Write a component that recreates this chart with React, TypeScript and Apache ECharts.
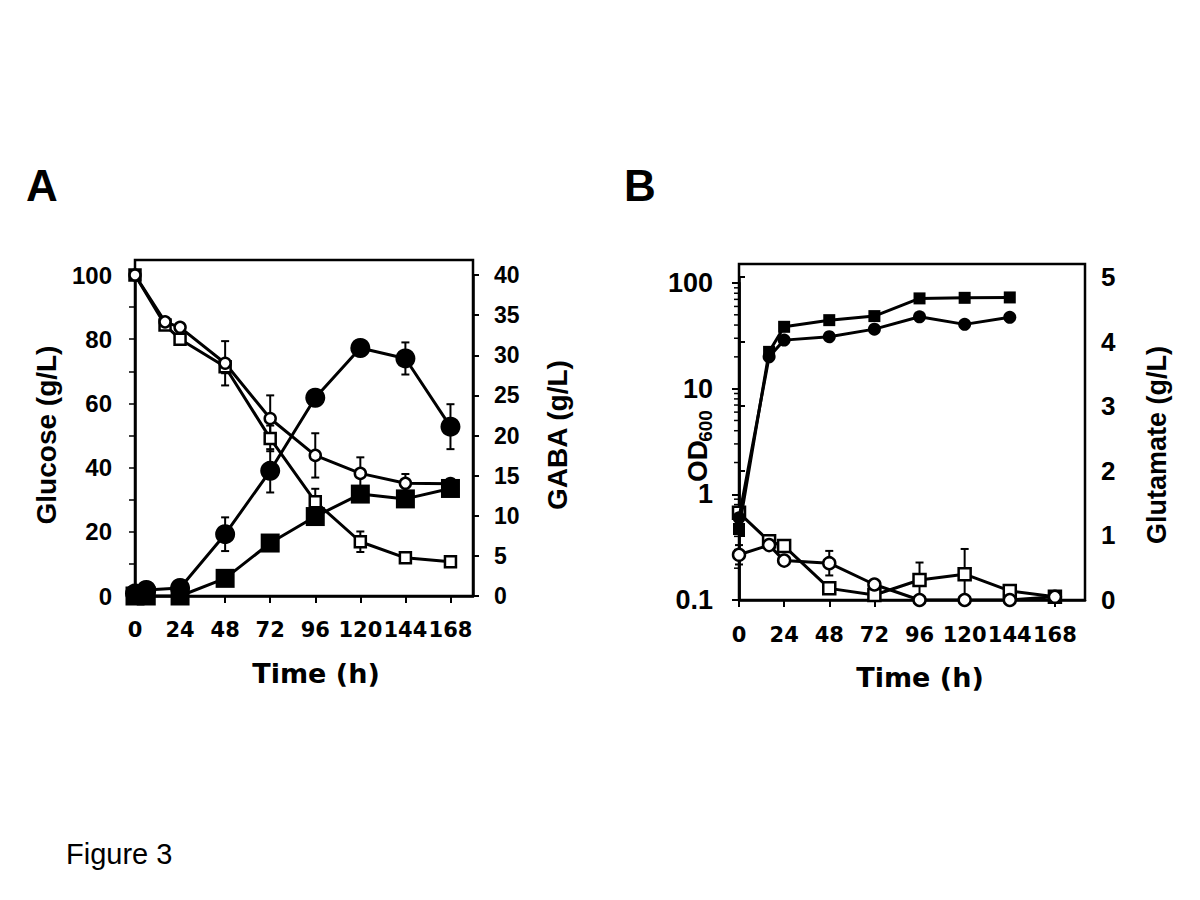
import React, { useEffect, useRef } from 'react';
import * as echarts from 'echarts';

// ---------- shared ----------
const timeTicks = [0, 24, 48, 72, 96, 120, 144, 168];

// ---------- Panel A : glucose (left axis) & GABA (right axis) ----------
const timeAOpen = [0, 16, 24, 48, 72, 96, 120, 144, 168];
const glucoseCircle = [100, 85.4, 83.7, 72.5, 55.3, 43.8, 38.2, 35.1, 35];
const glucoseCircleErr = [0, 0, 0, 6.9, 7.2, 6.9, 5, 2.9, 1.5];
const glucoseSquare = [100, 84.4, 80, 71.4, 49.1, 29.4, 16.9, 11.9, 10.7];
const glucoseSquareErr = [0, 0, 0, 2, 4, 4, 3.2, 0, 0];

const timeAFilled = [0, 6, 24, 48, 72, 96, 120, 144, 168];
const gabaCircle = [0.3, 0.75, 1.0, 7.7, 15.6, 24.7, 30.9, 29.6, 21.1];
const gabaCircleErr = [0, 0, 0, 2.1, 2.7, 0, 0, 2.0, 2.8];
const gabaSquare = [0, 0, 0, 2.2, 6.6, 9.9, 12.7, 12.1, 13.4];
const gabaSquareErr = [0, 0, 0, 0, 0, 0, 0, 0, 0.8];

// ---------- Panel B : OD600 (left log axis) & glutamate (right axis) ----------
const timeBOd = [0, 16, 24, 48, 72, 96, 120, 144];
const odSquare = [0.47, 22.3, 38.5, 44.5, 48.6, 71.5, 72.4, 73];
const odCircle = [0.6, 20, 28.8, 31, 36.6, 47.9, 40.6, 47.3];

const timeBGlu = [0, 16, 24, 48, 72, 96, 120, 144, 168];
const gluSquare = [1.35, 0.91, 0.835, 0.18, 0.077, 0.31, 0.4, 0.14, 0.05];
const gluSquareErr = [0, 0, 0, 0, 0, 0.27, 0.39, 0, 0];
const gluCircle = [0.7, 0.85, 0.61, 0.57, 0.24, 0, 0, 0, 0.05];
const gluCircleErr = [0.15, 0, 0, 0.19, 0, 0, 0, 0, 0];

const odMinorTicks = [0.2, 0.3, 0.4, 0.5, 0.6, 0.7, 0.8, 0.9, 2, 3, 4, 5, 6, 7, 8, 9, 20, 30, 40, 50, 60, 70, 80, 90];

const ARIAL = 'Liberation Sans';
const WIDE = 'DejaVu Sans';

const pairs = (xs: number[], ys: number[]) => xs.map((x, i) => [x, ys[i]]);
const errData = (xs: number[], ys: number[], es: number[]) =>
  xs.map((x, i) => [x, ys[i], es[i]]).filter((d) => d[2] > 0);

const errRender = (params: any, api: any) => {
  const x = api.value(0);
  const y = api.value(1);
  const e = api.value(2);
  const top = api.coord([x, y + e]);
  const bot = api.coord([x, y - e]);
  const hw = 4;
  const st = { stroke: '#000', lineWidth: 2 };
  return {
    type: 'group',
    children: [
      { type: 'line', shape: { x1: top[0], y1: top[1], x2: bot[0], y2: bot[1] }, style: st },
      { type: 'line', shape: { x1: top[0] - hw, y1: top[1], x2: top[0] + hw, y2: top[1] }, style: st },
      { type: 'line', shape: { x1: bot[0] - hw, y1: bot[1], x2: bot[0] + hw, y2: bot[1] }, style: st },
    ],
  };
};

const minorTickRender = (params: any, api: any) => {
  const p = api.coord([0, api.value(1)]);
  return {
    type: 'line',
    shape: { x1: p[0] - 5, y1: p[1], x2: p[0], y2: p[1] },
    style: { stroke: '#000', lineWidth: 1.5 },
  };
};

const axisLineStyle = { color: '#000', width: 2.5 };

const lineSeries = (
  name: string,
  data: number[][],
  xi: number,
  yi: number,
  symbol: string,
  size: number,
  filled: boolean,
  z: number
) => ({
  name,
  type: 'line',
  xAxisIndex: xi,
  yAxisIndex: yi,
  data,
  symbol,
  symbolSize: size,
  showSymbol: true,
  showAllSymbol: true,
  silent: true,
  z,
  lineStyle: { color: '#000', width: 3 },
  itemStyle: filled
    ? { color: '#000', borderColor: '#000', borderWidth: 0 }
    : { color: '#fff', borderColor: '#000', borderWidth: 2.5 },
  emphasis: { disabled: true },
});

const errSeries = (data: number[][], xi: number, yi: number) => ({
  type: 'custom',
  xAxisIndex: xi,
  yAxisIndex: yi,
  data,
  encode: { x: 0, y: 1 },
  renderItem: errRender,
  silent: true,
  clip: false,
  z: 1,
});

const xAxisBase = (gridIndex: number, max: number, margin: number) => ({
  type: 'value',
  gridIndex,
  min: 0,
  max,
  axisLine: { show: true, onZero: false, lineStyle: axisLineStyle },
  axisTick: { show: true, customValues: timeTicks, length: 7, lineStyle: { color: '#000', width: 2 } },
  axisLabel: {
    customValues: timeTicks,
    hideOverlap: false,
    showMaxLabel: true,
    showMinLabel: true,
    fontFamily: WIDE,
    fontWeight: 'bold',
    fontSize: 21,
    color: '#000',
    margin,
  },
  splitLine: { show: false },
});

export default function App() {
  const ref = useRef<HTMLDivElement>(null);

  useEffect(() => {
    if (!ref.current) return;
    const chart = echarts.init(ref.current, undefined, { renderer: 'svg' });

    const option: any = {
      animation: false,
      backgroundColor: '#fff',
      grid: [
        { left: 135, top: 275, width: 338, height: 321 },
        { left: 739, top: 283, width: 346, height: 317 },
        { left: 739, top: 277, width: 346, height: 323 },
      ],
      xAxis: [
        xAxisBase(0, 180, 23),
        xAxisBase(1, 184, 24),
        { type: 'value', gridIndex: 2, min: 0, max: 184, show: false },
      ],
      yAxis: [
        {
          type: 'value',
          gridIndex: 0,
          position: 'left',
          min: 0,
          max: 100,
          interval: 10,
          axisLine: { show: true, lineStyle: axisLineStyle },
          axisTick: { show: true, length: 6, lineStyle: { color: '#000', width: 1.5 } },
          axisLabel: {
            formatter: (v: number) => (v % 20 === 0 ? String(v) : ''),
            fontFamily: ARIAL,
            fontWeight: 'bold',
            fontSize: 24,
            color: '#000',
            margin: 23,
          },
          splitLine: { show: false },
        },
        {
          type: 'value',
          gridIndex: 0,
          position: 'right',
          min: 0,
          max: 40,
          interval: 5,
          axisLine: { show: true, lineStyle: axisLineStyle },
          axisTick: { show: true, length: 6, lineStyle: { color: '#000', width: 2 } },
          axisLabel: { fontFamily: ARIAL, fontWeight: 'bold', fontSize: 23, color: '#000', margin: 21 },
          splitLine: { show: false },
        },
        {
          type: 'log',
          logBase: 10,
          gridIndex: 1,
          position: 'left',
          min: 0.1,
          max: 100,
          axisLine: { show: true, lineStyle: axisLineStyle },
          axisTick: { show: true, length: 7, lineStyle: { color: '#000', width: 2 } },
          axisLabel: {
            formatter: (v: number) => (v >= 1 ? String(Math.round(v)) : String(Math.round(v * 10) / 10)),
            fontFamily: ARIAL,
            fontWeight: 'bold',
            fontSize: 27,
            color: '#000',
            margin: 26,
          },
          splitLine: { show: false },
        },
        {
          type: 'value',
          gridIndex: 2,
          position: 'right',
          min: 0,
          max: 5,
          interval: 1,
          axisLine: { show: true, lineStyle: axisLineStyle },
          axisTick: { show: true, length: 6, lineStyle: { color: '#000', width: 2 } },
          axisLabel: { fontFamily: ARIAL, fontWeight: 'bold', fontSize: 26, color: '#000', margin: 16 },
          splitLine: { show: false },
        },
      ],
      graphic: [
        { type: 'rect', shape: { x: 135, y: 260, width: 338, height: 336 }, style: { fill: 'none', stroke: '#000', lineWidth: 2.5 }, z: 0 },
        { type: 'rect', shape: { x: 739, y: 264, width: 346, height: 336 }, style: { fill: 'none', stroke: '#000', lineWidth: 2.5 }, z: 0 },
        { type: 'text', x: 42, y: 185, style: { text: 'A', font: `bold 44px "${ARIAL}"`, fill: '#000', align: 'center', verticalAlign: 'middle' } },
        { type: 'text', x: 640, y: 185, style: { text: 'B', font: `bold 44px "${ARIAL}"`, fill: '#000', align: 'center', verticalAlign: 'middle' } },
        { type: 'text', x: 66, y: 854, style: { text: 'Figure 3', font: `29px "${ARIAL}"`, fill: '#000', align: 'left', verticalAlign: 'middle' } },
        { type: 'text', x: 46, y: 435, rotation: Math.PI / 2, style: { text: 'Glucose (g/L)', font: `bold 28px "${ARIAL}"`, fill: '#000', align: 'center', verticalAlign: 'middle' } },
        { type: 'text', x: 557, y: 435, rotation: Math.PI / 2, style: { text: 'GABA (g/L)', font: `bold 28px "${ARIAL}"`, fill: '#000', align: 'center', verticalAlign: 'middle' } },
        { type: 'text', x: 316, y: 673, style: { text: 'Time (h)', font: `bold 27px "${WIDE}"`, fill: '#000', align: 'center', verticalAlign: 'middle' } },
        { type: 'text', x: 920, y: 677, style: { text: 'Time (h)', font: `bold 27px "${WIDE}"`, fill: '#000', align: 'center', verticalAlign: 'middle' } },
        { type: 'text', x: 697, y: 461, rotation: Math.PI / 2, style: { text: 'OD', font: `bold 28px "${ARIAL}"`, fill: '#000', align: 'center', verticalAlign: 'middle' } },
        { type: 'text', x: 705, y: 426, rotation: Math.PI / 2, style: { text: '600', font: `bold 19px "${ARIAL}"`, fill: '#000', align: 'center', verticalAlign: 'middle' } },
        { type: 'text', x: 1157, y: 445, rotation: Math.PI / 2, style: { text: 'Glutamate (g/L)', font: `bold 27px "${ARIAL}"`, fill: '#000', align: 'center', verticalAlign: 'middle' } },
      ],
      series: [
        // Panel A
        errSeries(errData(timeAOpen, glucoseCircle, glucoseCircleErr), 0, 0),
        errSeries(errData(timeAOpen, glucoseSquare, glucoseSquareErr), 0, 0),
        errSeries(errData(timeAFilled, gabaCircle, gabaCircleErr), 0, 1),
        errSeries(errData(timeAFilled, gabaSquare, gabaSquareErr), 0, 1),
        lineSeries('Glucose square', pairs(timeAOpen, glucoseSquare), 0, 0, 'rect', 11, false, 3),
        lineSeries('Glucose circle', pairs(timeAOpen, glucoseCircle), 0, 0, 'circle', 11, false, 3),
        lineSeries('GABA square', pairs(timeAFilled, gabaSquare), 0, 1, 'rect', 19, true, 4),
        lineSeries('GABA circle', pairs(timeAFilled, gabaCircle), 0, 1, 'circle', 20, true, 4),
        // Panel B
        {
          type: 'custom',
          xAxisIndex: 1,
          yAxisIndex: 2,
          data: odMinorTicks.map((v) => [0, v]),
          encode: { x: 0, y: 1 },
          renderItem: minorTickRender,
          silent: true,
          clip: false,
          z: 1,
        },
        errSeries(errData(timeBGlu, gluSquare, gluSquareErr), 2, 3),
        errSeries(errData(timeBGlu, gluCircle, gluCircleErr), 2, 3),
        lineSeries('Glutamate square', pairs(timeBGlu, gluSquare), 2, 3, 'rect', 12, false, 3),
        lineSeries('Glutamate circle', pairs(timeBGlu, gluCircle), 2, 3, 'circle', 12, false, 3),
        lineSeries('OD square', pairs(timeBOd, odSquare), 1, 2, 'rect', 12, true, 4),
        lineSeries('OD circle', pairs(timeBOd, odCircle), 1, 2, 'circle', 13, true, 4),
      ],
    };

    chart.setOption(option);
    return () => chart.dispose();
  }, []);

  return (
    <div
      ref={ref}
      style={{ position: 'fixed', left: 0, top: 0, width: 1200, height: 900, background: '#fff' }}
    />
  );
}
